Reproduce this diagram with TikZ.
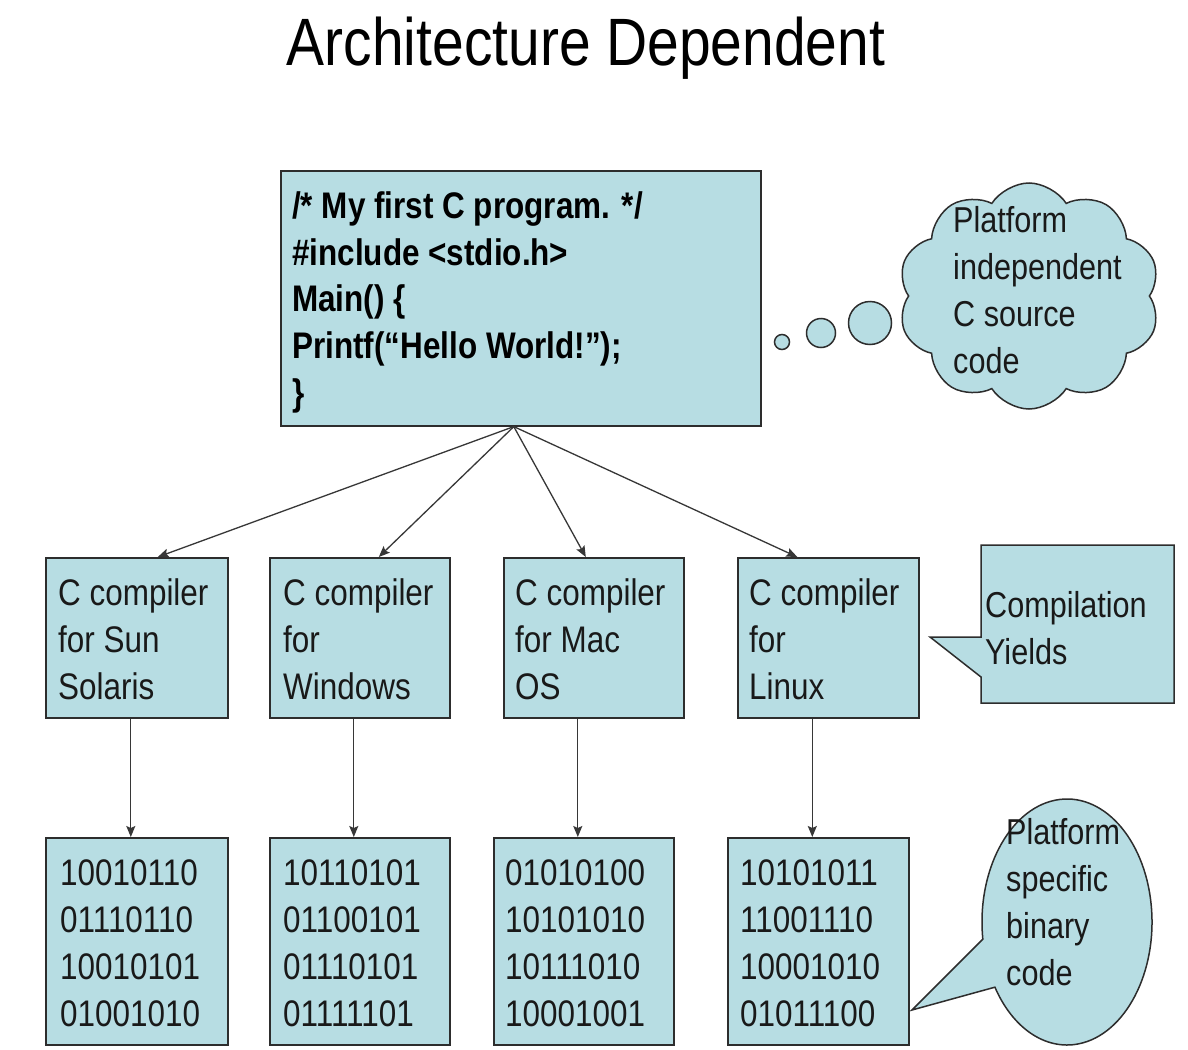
\documentclass[tikz,border=0pt]{standalone}
\usepackage{fontspec}
\setmainfont[FakeStretch=0.85]{Liberation Sans}
\usetikzlibrary{shapes.symbols,arrows.meta}
\definecolor{boxfill}{RGB}{183,221,227}
\definecolor{boxline}{RGB}{45,45,45}
\definecolor{txtcol}{RGB}{25,25,25}
\definecolor{arrcol}{RGB}{55,55,55}
\newcommand{\Firstline}{\rule{0pt}{30pt}}
\tikzset{
  boxnode/.style={draw=boxline, fill=boxfill, line width=1.6pt, anchor=north west, inner sep=0pt},
  txtblock/.style={anchor=north west, inner sep=0pt, align=left, text=txtcol,
    font=\fontsize{37}{47}\selectfont},
  codeblock/.style={txtblock, text=black, font=\fontsize{37}{46.8}\selectfont\bfseries},
  calltxt/.style={txtblock, font=\fontsize{36}{47}\selectfont},
  arr/.style={draw=arrcol, line width=1.3pt, -{Stealth[length=11pt,width=9pt,inset=2pt]}},
  shapeline/.style={draw=boxline, fill=boxfill, line width=1.5pt}
}
\begin{document}
\begin{tikzpicture}[x=1pt,y=-1pt]
\useasboundingbox[fill=white] (0,0) rectangle (1188,1049);

% title
\node[anchor=base, inner sep=0pt, font=\fontsize{67}{80}\selectfont] (title) at (586,66) {Architecture Dependent};

% main source box
\node[boxnode, minimum width=480pt, minimum height=255pt] (main) at (280,170) {};
\node[codeblock] (maint) at (292,188) {\Firstline/* My first C program. */\\\#include <stdio.h>\\Main() \{\\Printf(“Hello World!”);\\\}};

% compiler boxes
\node[boxnode, minimum width=182pt, minimum height=160pt] (c1) at (45,557) {};
\node[boxnode, minimum width=180pt, minimum height=160pt] (c2) at (269,557) {};
\node[boxnode, minimum width=180pt, minimum height=160pt] (c3) at (503,557) {};
\node[boxnode, minimum width=181pt, minimum height=160pt] (c4) at (737,557) {};
\node[txtblock] (c1t) at (58,575) {\Firstline C compiler\\for Sun\\Solaris};
\node[txtblock] (c2t) at (283,575) {\Firstline C compiler\\for\\Windows};
\node[txtblock] (c3t) at (515,575) {\Firstline C compiler\\for Mac\\OS};
\node[txtblock] (c4t) at (749,575) {\Firstline C compiler\\for\\Linux};

% binary boxes
\node[boxnode, minimum width=182pt, minimum height=207pt] (b1) at (45,837) {};
\node[boxnode, minimum width=180pt, minimum height=207pt] (b2) at (269,837) {};
\node[boxnode, minimum width=180pt, minimum height=207pt] (b3) at (493,837) {};
\node[boxnode, minimum width=181pt, minimum height=207pt] (b4) at (727,837) {};
\node[txtblock] (b1t) at (60,855) {\Firstline 10010110\\01110110\\10010101\\01001010};
\node[txtblock] (b2t) at (283,855) {\Firstline 10110101\\01100101\\01110101\\01111101};
\node[txtblock] (b3t) at (505,855) {\Firstline 01010100\\10101010\\10111010\\10001001};
\node[txtblock] (b4t) at (740,855) {\Firstline 10101011\\11001110\\10001010\\01011100};

% arrows from source to compilers
\coordinate (apex) at ([xshift=-7pt]main.south);
\draw[arr] (apex) -- ([xshift=21pt]c1.north);
\draw[arr] (apex) -- ([xshift=19pt]c2.north);
\draw[arr] (apex) -- ([xshift=-8pt]c3.north);
\draw[arr] (apex) -- ([xshift=-31pt]c4.north);

% arrows from compilers to binaries
\draw[arr] ([xshift=-6pt]c1.south) -- ([xshift=-6pt]c1.south |- b1.north);
\draw[arr] ([xshift=-6pt]c2.south) -- ([xshift=-6pt]c2.south |- b2.north);
\draw[arr] ([xshift=-16pt]c3.south) -- ([xshift=-16pt]c3.south |- b3.north);
\draw[arr] ([xshift=-16pt]c4.south) -- ([xshift=-16pt]c4.south |- b4.north);

% thought cloud
\node[cloud, cloud puffs=10, cloud puff arc=115, aspect=1.16, draw=boxline, fill=boxfill,
  line width=1.5pt, minimum width=262pt, minimum height=226pt, inner sep=0pt] (cloud) at (1029,296) {};
\node[circle, shapeline, minimum size=43pt, inner sep=0pt] (bub3) at (870,323) {};
\node[circle, shapeline, minimum size=29pt, inner sep=0pt] (bub2) at (821,333) {};
\node[circle, shapeline, minimum size=15pt, inner sep=0pt] (bub1) at (782,342) {};
\node[calltxt] (cloudt) at (953,202) {\Firstline Platform\\independent\\C source\\code};

% rectangular callout
\draw[shapeline, line join=miter] (981,545) -- (1174,545) -- (1174,703) -- (981,703) -- (981,677) -- (930,637) -- (981,637) -- cycle;
\node[calltxt] (compt) at (985,587) {\Firstline Compilation\\Yields};

% elliptical callout
\draw[shapeline] (1067,922) ++(172:85 and 123) arc[start angle=172, end angle=508, x radius=85, y radius=123] -- (912,1010) -- cycle;
\node[calltxt] (ellt) at (1006,814) {\Firstline Platform\\specific\\binary\\code};
\end{tikzpicture}
\end{document}
